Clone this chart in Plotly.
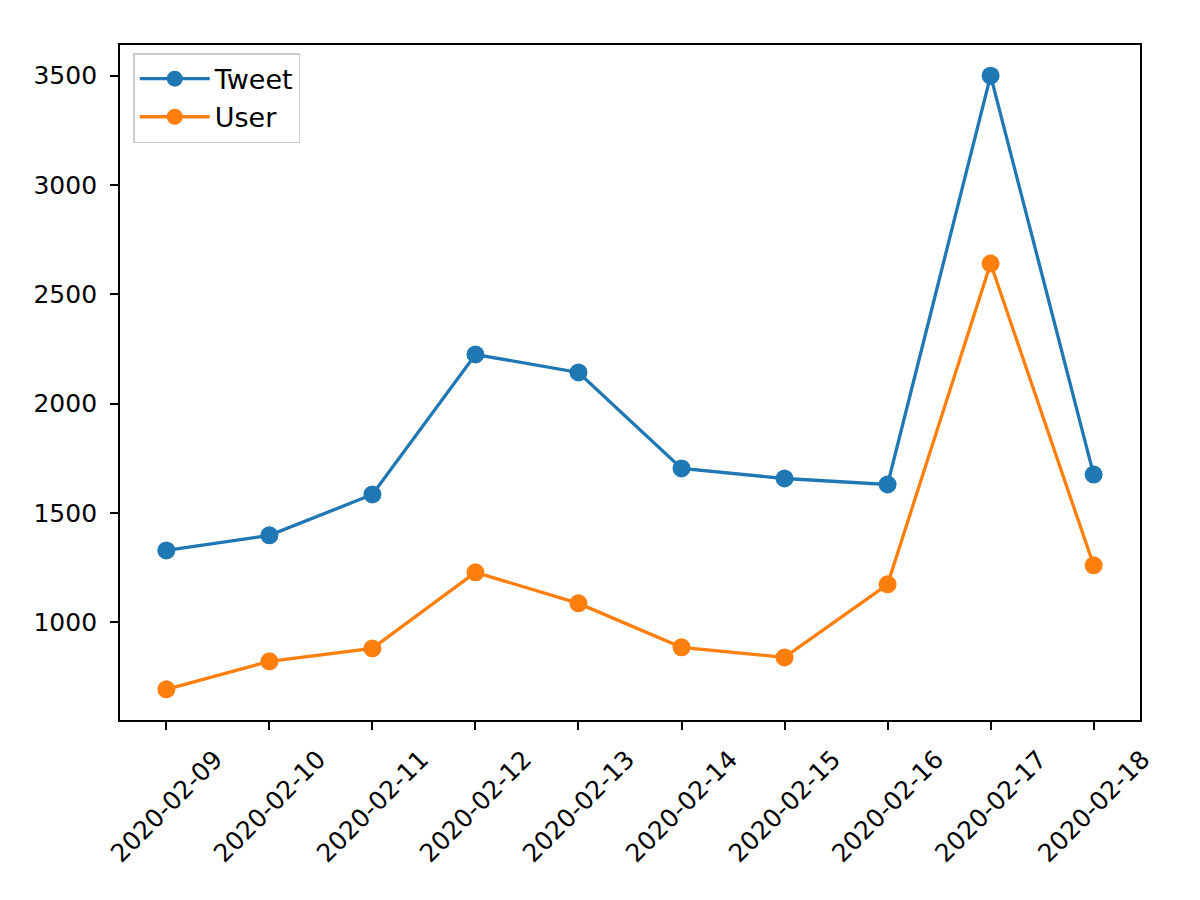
import plotly.graph_objects as go

dates = ["2020-02-09", "2020-02-10", "2020-02-11", "2020-02-12", "2020-02-13",
         "2020-02-14", "2020-02-15", "2020-02-16", "2020-02-17", "2020-02-18"]
tweet = [1329, 1398, 1585, 2225, 2143, 1704, 1658, 1631, 3500, 1676]
user = [694, 822, 881, 1229, 1087, 886, 840, 1174, 2641, 1261]
yticks = [1000, 1500, 2000, 2500, 3000, 3500]

FS = 25
font = dict(family="DejaVu Sans", size=FS, color="black")

fig = go.Figure()
fig.add_trace(go.Scatter(x=dates, y=tweet, name="Tweet", mode="lines+markers",
                         line=dict(color="#1f77b4", width=3.3),
                         marker=dict(size=18, color="#1f77b4")))
fig.add_trace(go.Scatter(x=dates, y=user, name="User", mode="lines+markers",
                         line=dict(color="#ff7f0e", width=3.3),
                         marker=dict(size=18, color="#ff7f0e")))

ymin, ymax = min(user), max(tweet)
pad = (ymax - ymin) * 0.05

# rotated, centre-aligned date labels (matplotlib style)
for d in dates:
    fig.add_annotation(x=d, y=0, xref="x", yref="paper", text=d, showarrow=False,
                       textangle=-45, xanchor="center", yanchor="top", yshift=-22,
                       font=font)

fig.update_layout(
    width=1200, height=900,
    margin=dict(l=112, r=68, t=37, b=188),
    paper_bgcolor="white", plot_bgcolor="white",
    font=font,
    showlegend=True,
    legend=dict(x=0.013, y=0.988, xanchor="left", yanchor="top",
                bgcolor="rgba(255,255,255,0.8)", bordercolor="#cccccc", borderwidth=1.5,
                font=dict(family="DejaVu Sans", size=27, color="black"),
                itemwidth=70, tracegroupgap=0),
    xaxis=dict(type="category", range=[-0.45, len(dates) - 1 + 0.45],
               showticklabels=False, ticks="outside", ticklen=8, tickwidth=1.5, tickcolor="black",
               showline=True, linecolor="black", linewidth=1.8, mirror=True,
               showgrid=False, zeroline=False),
    yaxis=dict(range=[ymin - pad, ymax + pad], tickvals=yticks,
               ticktext=[str(v) for v in yticks],
               ticks="outside", ticklen=8, tickwidth=1.5, tickcolor="black",
               ticklabelstandoff=8,
               showline=True, linecolor="black", linewidth=1.8, mirror=True,
               showgrid=False, zeroline=False, tickfont=font),
)

fig.write_html("out.html")
